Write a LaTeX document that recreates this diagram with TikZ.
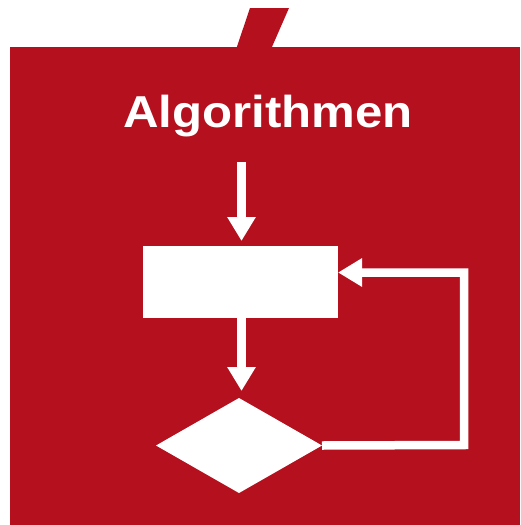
\documentclass[tikz,border=0pt]{standalone}
\usepackage{fontspec}
\newfontfamily\titlefont{Liberation Sans}
\usetikzlibrary{arrows.meta,shapes.geometric,calc}
\definecolor{brandred}{RGB}{180,16,30}
\begin{document}
\begin{tikzpicture}[x=1pt,y=-1pt,
  flowline/.style={white,line width=8.5pt,line join=miter,
    -{Triangle[width=27pt,length=24pt]}},
  boxnode/.style={draw=none,fill=white,rectangle,inner sep=0pt,outer sep=0pt,
    minimum width=195pt,minimum height=72pt},
  decnode/.style={draw=none,fill=white,diamond,inner sep=0pt,outer sep=0pt,
    minimum width=166pt,minimum height=95pt}]
\useasboundingbox (0,0) rectangle (520,525);
\fill[white] (0,0) rectangle (520,525);
\fill[brandred] (10,47) -- (520,47) -- (520,525) -- (10,525) -- cycle;
\fill[brandred] (250,8) -- (289,8) -- (271.5,48) -- (236.5,48) -- cycle;
\node[anchor=base,text=white,xscale=1.1,inner sep=0pt] (title) at (268,127)
  {\fontsize{44.7pt}{50pt}\titlefont\bfseries Algorithmen};
\coordinate (start) at (241.5,162);
\node[boxnode] (proc) at (240.5,282) {};
\node[decnode] (dec) at (239,445.5) {};
\draw[flowline,shorten >=5pt] (start) -- (proc.north -| start);
\draw[flowline,shorten >=7pt] (proc.south -| start) -- (dec.north -| start);
\coordinate (loopcorner) at (464,445);
\draw[flowline] (dec.east) -- (loopcorner) |- ([yshift=9.5pt]proc.east);
\end{tikzpicture}
\end{document}
